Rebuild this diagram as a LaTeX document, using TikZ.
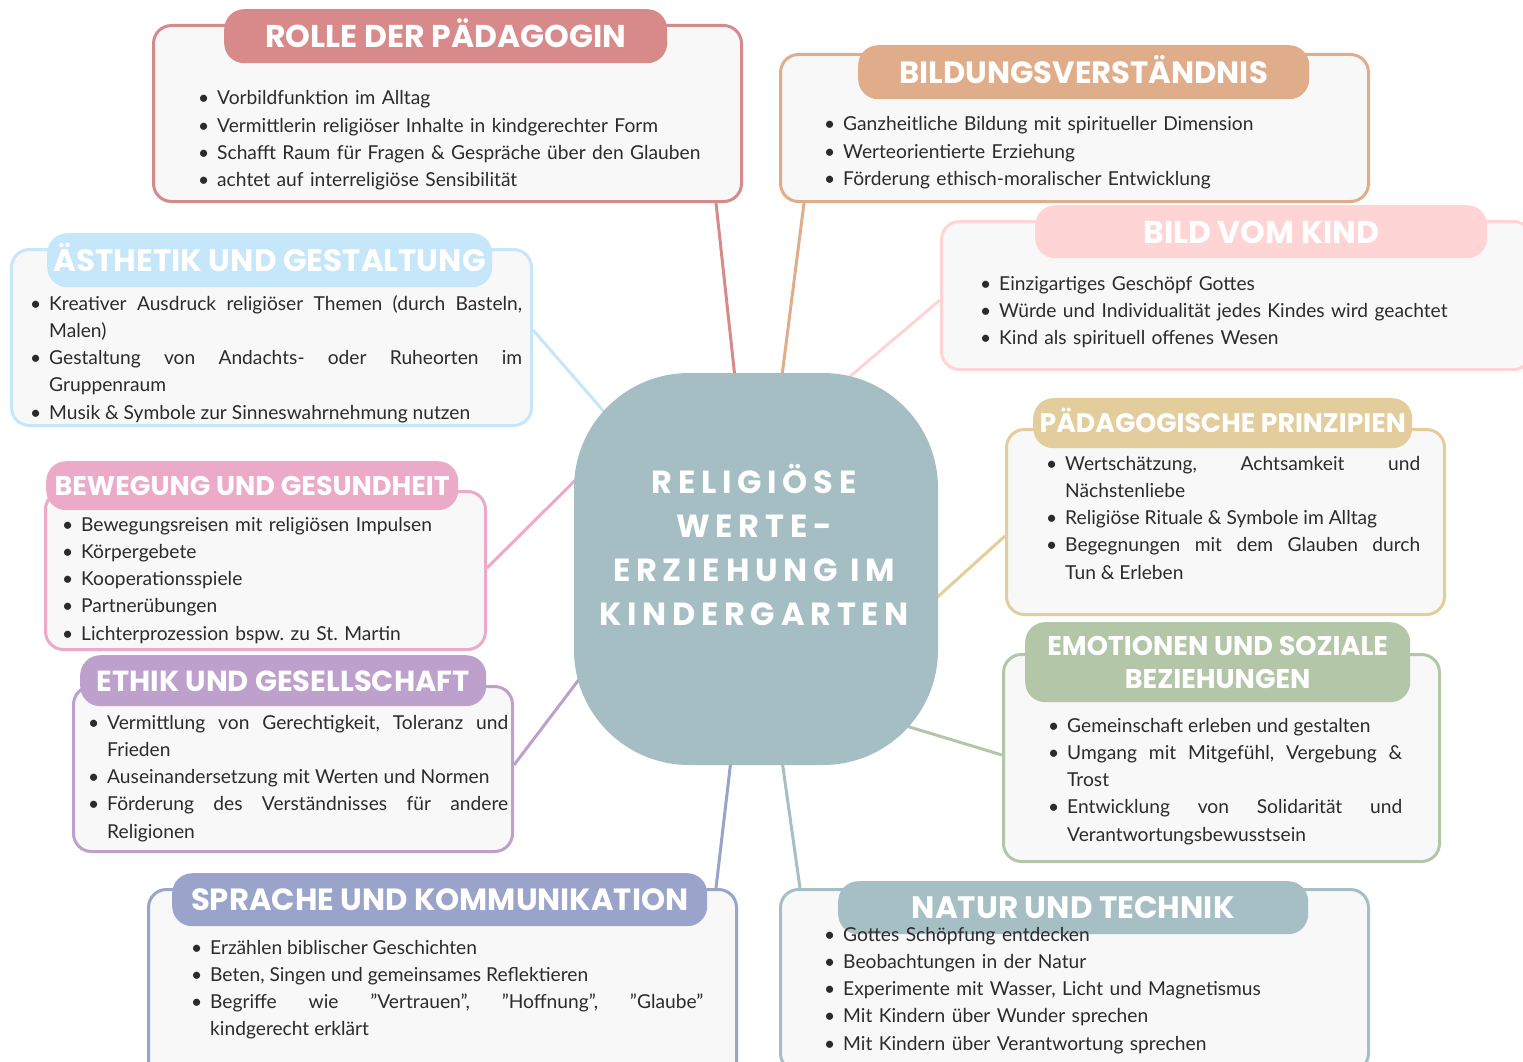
\documentclass[tikz,border=0pt]{standalone}
\usepackage{fontspec}
\setmainfont{Lato}
\newfontfamily\titlefont{Poppins}
\newfontfamily\hubfont{Poppins}[LetterSpace=18]
\usetikzlibrary{positioning,calc}
\frenchspacing

\definecolor{ink}{HTML}{2B2B2B}
\definecolor{boxfill}{HTML}{F8F8F8}
\definecolor{hubC}{HTML}{A5BEC3}
\definecolor{rolleC}{HTML}{D88A8A}
\definecolor{bildungC}{HTML}{E0AD8A}
\definecolor{kindC}{HTML}{FFD4D4}
\definecolor{aesthC}{HTML}{C6E6FA}
\definecolor{beweC}{HTML}{EBAAC8}
\definecolor{ethikC}{HTML}{BEA0CD}
\definecolor{spracheC}{HTML}{9AA3CA}
\definecolor{naturC}{HTML}{A6BFC4}
\definecolor{emoC}{HTML}{B4C6A8}
\definecolor{prinzC}{HTML}{E4CD9C}

\pgfdeclarelayer{background}
\pgfsetlayers{background,main}

% one bullet item, hanging indent
\newcommand{\punkt}[1]{\noindent\hangindent=19pt\hangafter=1\makebox[19pt][l]{\textbullet}#1\par}

\tikzset{
  rahmen/.style={draw=#1, line width=3pt, fill=boxfill, rounded corners=18pt, anchor=north west, inner sep=0pt},
  pill/.style 2 args={fill=#1, rounded corners=20pt, anchor=north west, inner sep=0pt, text=white,
    font=\titlefont\bfseries\fontsize{#2}{#2}\selectfont, text height={0.72*#2}, text depth=0pt},
  liste/.style={anchor=base west, inner sep=0pt, align=left, text=ink, font=\fontsize{19.2}{27.3}\selectfont},
  ast/.style={draw=#1, line width=3pt},
  hub/.style={fill=hubC, minimum width=364pt, minimum height=392pt, rounded corners=115pt, inner sep=0pt},
}

\begin{document}
\begin{tikzpicture}[x=1pt,y=-1pt]
\useasboundingbox (0,0) rectangle (1523,1062);

% Center
\node[hub] (hub) at (756,569) {};
\node[text=white, align=center, font=\hubfont\bfseries\fontsize{32}{44}\selectfont] (titel) at (754,545)
  {RELIGIÖSE\\WERTE-\\ERZIEHUNG IM\\KINDERGARTEN};

% Rolle der Paedagogin
\node[rahmen=rolleC, minimum width=588pt, minimum height=176pt] (rolle) at (152,24) {};
\node[pill={rolleC}{31.5}, minimum width=443pt, minimum height=54pt] (rolleT) at (224,9) {ROLLE DER PÄDAGOGIN};
\node[liste, text width=530pt] (rolleL) at (198,105) {%
  \punkt{Vorbildfunktion im Alltag}
  \punkt{Vermittlerin religiöser Inhalte in kindgerechter Form}
  \punkt{Schafft Raum für Fragen \& Gespräche über den Glauben}
  \punkt{achtet auf interreligiöse Sensibilität}};

% Bildungsverstaendnis
\node[rahmen=bildungC, minimum width=588pt, minimum height=147pt] (bildung) at (779,53) {};
\node[pill={bildungC}{30.7}, minimum width=451pt, minimum height=54pt] (bildungT) at (858,45) {BILDUNGSVERSTÄNDNIS};
\node[liste, text width=530pt] (bildungL) at (824,131) {%
  \punkt{Ganzheitliche Bildung mit spiritueller Dimension}
  \punkt{Werteorientierte Erziehung}
  \punkt{Förderung ethisch-moralischer Entwicklung}};

% Bild vom Kind
\node[rahmen=kindC, minimum width=590pt, minimum height=148pt] (kind) at (940,220) {};
\node[pill={kindC}{31.5}, minimum width=452pt, minimum height=53pt] (kindT) at (1035,205) {BILD VOM KIND};
\node[liste, text width=530pt] (kindL) at (980,290) {%
  \punkt{Einzigartiges Geschöpf Gottes}
  \punkt{Würde und Individualität jedes Kindes wird geachtet}
  \punkt{Kind als spirituell offenes Wesen}};

% Aesthetik und Gestaltung
\node[rahmen=aesthC, minimum width=520pt, minimum height=176pt] (aesth) at (10,248) {};
\node[pill={aesthC}{31}, minimum width=445pt, minimum height=54pt] (aesthT) at (47,233) {ÄSTHETIK UND GESTALTUNG};
\node[liste, align=justify, text width=492pt] (aesthL) at (30,310) {%
  \punkt{Kreativer Ausdruck religiöser Themen (durch Basteln,\linebreak Malen)}
  \punkt{Gestaltung von Andachts- oder Ruheorten im\linebreak Gruppenraum}
  \punkt{Musik \& Symbole zur Sinneswahrnehmung nutzen}};

% Bewegung und Gesundheit
\node[rahmen=beweC, minimum width=440pt, minimum height=158pt] (bewe) at (44,490) {};
\node[pill={beweC}{27}, minimum width=412pt, minimum height=49pt] (beweT) at (46,461) {BEWEGUNG UND GESUNDHEIT};
\node[liste, text width=400pt] (beweL) at (62,531) {%
  \punkt{Bewegungsreisen mit religiösen Impulsen}
  \punkt{Körpergebete}
  \punkt{Kooperationsspiele}
  \punkt{Partnerübungen}
  \punkt{Lichterprozession bspw. zu St. Martin}};

% Ethik und Gesellschaft
\node[rahmen=ethikC, minimum width=439pt, minimum height=165pt] (ethik) at (72,685) {};
\node[pill={ethikC}{29}, minimum width=406pt, minimum height=51pt] (ethikT) at (80,655) {ETHIK UND GESELLSCHAFT};
\node[liste, align=justify, text width=420pt] (ethikL) at (88,729) {%
  \punkt{Vermittlung von Gerechtigkeit, Toleranz und\linebreak Frieden}
  \punkt{Auseinandersetzung mit Werten und Normen}
  \punkt{Förderung des Verständnisses für andere\linebreak Religionen}};

% Sprache und Kommunikation
\node[rahmen=spracheC, minimum width=588pt, minimum height=190pt] (sprache) at (147,888) {};
\node[pill={spracheC}{30.7}, minimum width=535pt, minimum height=53pt] (spracheT) at (172,873) {SPRACHE UND KOMMUNIKATION};
\node[liste, align=justify, text width=512pt] (spracheL) at (191,954) {%
  \punkt{Erzählen biblischer Geschichten}
  \punkt{Beten, Singen und gemeinsames Reflektieren}
  \punkt{Begriffe wie "Vertrauen", "Hoffnung", "Glaube"\linebreak kindgerecht erklärt}};

% Natur und Technik
\node[rahmen=naturC, minimum width=588pt, minimum height=182pt] (natur) at (779,888) {};
\node[pill={naturC}{31}, minimum width=470pt, minimum height=53pt] (naturT) at (838,881) {NATUR UND TECHNIK};
\node[liste, text width=530pt] (naturL) at (824,941) {%
  \punkt{Gottes Schöpfung entdecken}
  \punkt{Beobachtungen in der Natur}
  \punkt{Experimente mit Wasser, Licht und Magnetismus}
  \punkt{Mit Kindern über Wunder sprechen}
  \punkt{Mit Kindern über Verantwortung sprechen}};

% Emotionen und soziale Beziehungen
\node[rahmen=emoC, minimum width=436pt, minimum height=207pt] (emo) at (1002,653) {};
\node[pill={emoC}{27}, minimum width=385pt, minimum height=80pt, align=center, text height=, text depth=,
  font=\titlefont\bfseries\fontsize{27}{33}\selectfont] (emoT) at (1025,622) {EMOTIONEN UND SOZIALE\\BEZIEHUNGEN};
\node[liste, align=justify, text width=354pt] (emoL) at (1048,732) {%
  \punkt{Gemeinschaft erleben und gestalten}
  \punkt{Umgang mit Mitgefühl, Vergebung \&\linebreak Trost}
  \punkt{Entwicklung von Solidarität und\linebreak Verantwortungsbewusstsein}};

% Paedagogische Prinzipien
\node[rahmen=prinzC, minimum width=438pt, minimum height=185pt] (prinz) at (1005,428) {};
\node[pill={prinzC}{26.7}, minimum width=379pt, minimum height=50pt] (prinzT) at (1033,398) {PÄDAGOGISCHE PRINZIPIEN};
\node[liste, align=justify, text width=374pt] (prinzL) at (1046,470) {%
  \punkt{Wertschätzung, Achtsamkeit und\linebreak Nächstenliebe}
  \punkt{Religiöse Rituale \& Symbole im Alltag}
  \punkt{Begegnungen mit dem Glauben durch\linebreak Tun \& Erleben}};

% Connectors
\begin{pgfonlayer}{background}
\draw[ast=rolleC] ($(rolle.south west)+(564,0)$) -- ($(hub.center)+(-11,-99)$);
\draw[ast=bildungC] ($(bildung.south west)+(25,0)$) -- ($(hub.center)+(14,-99)$);
\draw[ast=kindC] ($(kind.north west)+(0,80)$) -- ($(hub.center)+(44,-150)$);
\draw[ast=aesthC] ($(aesth.north east)+(0,82)$) -- ($(hub.center)+(-96,-93)$);
\draw[ast=beweC] ($(bewe.north east)+(0,78)$) -- ($(hub.center)+(-106,-163)$);
\draw[ast=ethikC] ($(ethik.north east)+(0,80)$) -- ($(hub.center)+(-116,30)$);
\draw[ast=prinzC] ($(prinz.north west)+(0,108)$) -- ($(hub.center)+(124,80)$);
\draw[ast=emoC] ($(emo.north west)+(0,102)$) -- ($(hub.center)+(94,140)$);
\draw[ast=spracheC] ($(sprache.north west)+(569,0)$) -- ($(hub.center)+(-11,71)$);
\draw[ast=naturC] ($(natur.north west)+(21,0)$) -- ($(hub.center)+(9,71)$);
\end{pgfonlayer}
\end{tikzpicture}
\end{document}
